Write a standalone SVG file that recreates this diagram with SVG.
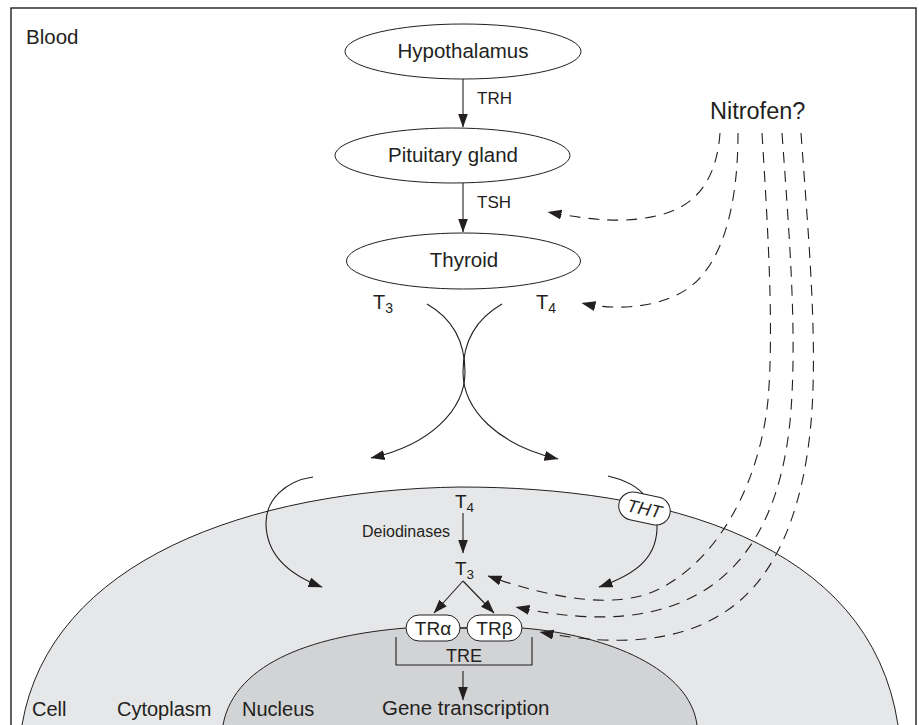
<svg xmlns="http://www.w3.org/2000/svg" width="919" height="725" viewBox="0 0 919 725">
<style>
  text { font-family: "Liberation Sans", Arial, sans-serif; fill: #231f20; }
  .lbl { font-size: 20.5px; }
  .small { font-size: 17px; }
  .sub { font-size: 14px; }
  .node { fill: #ffffff; stroke: #231f20; stroke-width: 1; }
  .line { fill: none; stroke: #231f20; stroke-width: 1.1; }
  .dash { fill: none; stroke: #231f20; stroke-width: 1.1; stroke-dasharray: 11 8; }
</style>
<defs>
  <marker id="ah" markerUnits="userSpaceOnUse" markerWidth="15" markerHeight="11" refX="13.5" refY="5" orient="auto">
    <path d="M0,0 L14,5 L0,10 Z" fill="#231f20"/>
  </marker>
</defs>
<rect width="919" height="725" fill="#ffffff"/>

<g id="cell">
  <path d="M21,745 L22,725 C50,560 250,490 460,487 C660,487 870,540 898,725 L899,745 Z" fill="#e6e7e8" stroke="#231f20" stroke-width="1"/>
</g>
<g id="nucleus">
  <path d="M223,745 L223,725 C235,660 320,635 406,628 L522,628 C610,635 690,670 697,725 L697,745 Z" fill="#d1d3d4" stroke="#231f20" stroke-width="1"/>
</g>

<rect x="11" y="8" width="905" height="740" fill="none" stroke="#231f20" stroke-width="1.4"/>

<g id="connectors">
  <line class="line" x1="463" y1="79" x2="463" y2="127" marker-end="url(#ah)"/>
  <line class="line" x1="463" y1="183" x2="463" y2="232" marker-end="url(#ah)"/>
  <path class="line" d="M427,304 C455,320 465,345 465,372 C465,410 430,445 371,458" marker-end="url(#ah)"/>
  <path class="line" d="M502,304 C474,320 463,345 463,372 C463,410 498,445 558,459" marker-end="url(#ah)"/>
  <path class="line" d="M313,477 C285,481 266,500 266,523 C266,555 290,575 322,587" marker-end="url(#ah)"/>
  <path class="line" d="M608,476 C625,480 638,487 645,496"/>
  <path class="line" d="M657,524 C658,555 640,573 599,587" marker-end="url(#ah)"/>
  <line class="line" x1="463" y1="513" x2="463" y2="553" marker-end="url(#ah)"/>
  <line class="line" x1="463" y1="581" x2="434" y2="613" marker-end="url(#ah)"/>
  <line class="line" x1="463" y1="581" x2="494" y2="613" marker-end="url(#ah)"/>
  <line class="line" x1="460" y1="628" x2="467" y2="628"/>
  <path class="line" d="M396,637 V665 H532 V637"/>
  <line class="line" x1="463" y1="671" x2="463" y2="700" marker-end="url(#ah)"/>
  <path class="dash" d="M720,133 C717,175 700,205 660,215 C625,224 590,220 548,212" marker-end="url(#ah)"/>
  <path class="dash" d="M738,133 C738,200 725,260 690,287 C665,306 620,312 582,303" marker-end="url(#ah)"/>
  <path class="dash" d="M762,133 C768,230 774,330 768,400 C760,480 720,560 657,590 C615,610 550,598 488,576" marker-end="url(#ah)"/>
  <path class="dash" d="M782,133 C789,230 797,330 791,410 C785,490 760,555 705,590 C660,618 600,625 516,607" marker-end="url(#ah)"/>
  <path class="dash" d="M801,133 C808,230 817,330 812,410 C806,500 780,580 720,615 C680,640 620,648 540,632" marker-end="url(#ah)"/>
</g>

<g id="hypothalamus">
  <ellipse class="node" cx="463" cy="51.5" rx="118" ry="27.5"/>
  <text class="lbl" x="463" y="58" text-anchor="middle">Hypothalamus</text>
</g>
<g id="pituitary">
  <ellipse class="node" cx="452.5" cy="155.5" rx="117.5" ry="27.5"/>
  <text class="lbl" x="453" y="162" text-anchor="middle">Pituitary gland</text>
</g>
<g id="thyroid">
  <ellipse class="node" cx="463.5" cy="261" rx="117" ry="28"/>
  <text class="lbl" x="464" y="267" text-anchor="middle">Thyroid</text>
</g>
<g id="tht">
  <g transform="translate(644.5,508.5) rotate(12)">
    <rect class="node" x="-26" y="-14" width="52" height="28" rx="14"/>
    <text x="0" y="6.5" text-anchor="middle" font-size="18" font-style="italic">THT</text>
  </g>
</g>
<g id="tra">
  <rect class="node" x="406" y="615" width="54" height="26" rx="13"/>
  <text x="433" y="635" text-anchor="middle" font-size="19">TRα</text>
</g>
<g id="trb">
  <rect class="node" x="467" y="615" width="55" height="26" rx="13"/>
  <text x="494.5" y="635" text-anchor="middle" font-size="19">TRβ</text>
</g>

<g id="labels">
  <text class="lbl" x="26" y="44" font-size="20">Blood</text>
  <text class="small" x="477" y="104">TRH</text>
  <text class="small" x="477" y="208">TSH</text>
  <text x="710" y="119" font-size="23.5">Nitrofen?</text>
  <text x="373" y="309" font-size="20">T<tspan class="sub" dy="4">3</tspan></text>
  <text x="536" y="309" font-size="20">T<tspan class="sub" dy="4">4</tspan></text>
  <text x="455" y="508" font-size="19">T<tspan font-size="13.5" dy="4">4</tspan></text>
  <text x="455" y="575" font-size="19">T<tspan font-size="13.5" dy="4">3</tspan></text>
  <text x="362" y="537" font-size="16">Deiodinases</text>
  <text x="464" y="662" text-anchor="middle" font-size="18">TRE</text>
  <text class="lbl" x="382" y="715" font-size="20">Gene transcription</text>
  <text x="32" y="716" font-size="20">Cell</text>
  <text x="117" y="716" font-size="20">Cytoplasm</text>
  <text x="242" y="716" font-size="20">Nucleus</text>
</g>
</svg>
